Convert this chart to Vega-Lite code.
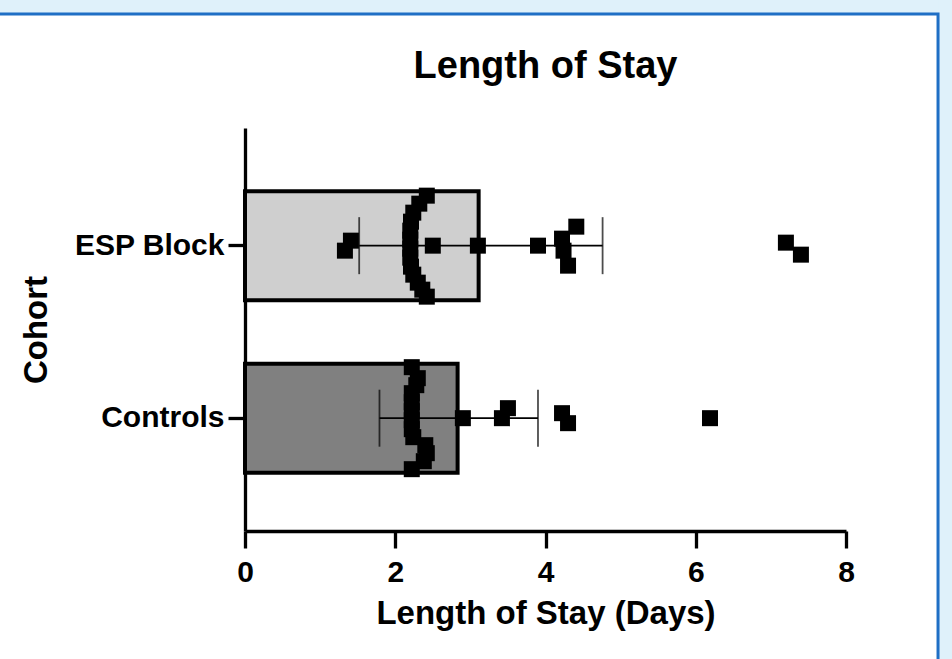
{
  "$schema": "https://vega.github.io/schema/vega-lite/v6.json",
  "width": 601,
  "height": 403,
  "autosize": {"type": "none"},
  "padding": {"left": 245, "top": 128, "right": 106, "bottom": 128},
  "background": "#ffffff",
  "title": {
    "text": "Length of Stay",
    "font": "Liberation Sans",
    "fontSize": 38,
    "fontWeight": "bold",
    "color": "#000000",
    "anchor": "middle",
    "frame": "group",
    "offset": -86
  },
  "config": {
    "view": {"stroke": null},
    "axis": {
      "domainColor": "#000000",
      "domainWidth": 3.3,
      "tickColor": "#000000",
      "tickWidth": 3.3,
      "tickSize": 17,
      "labelFont": "Liberation Sans",
      "labelFontWeight": "bold",
      "labelFontSize": 30,
      "labelColor": "#000000",
      "labelFlush": false,
      "titleFont": "Liberation Sans",
      "titleFontWeight": "bold",
      "titleFontSize": 33,
      "titleColor": "#000000",
      "grid": false
    }
  },
  "datasets": {
    "points": [
      {"cohort": "ESP Block", "days": 1.33, "spread": 5},
      {"cohort": "ESP Block", "days": 1.41, "spread": -5},
      {"cohort": "ESP Block", "days": 2.42, "spread": -50},
      {"cohort": "ESP Block", "days": 2.32, "spread": -42},
      {"cohort": "ESP Block", "days": 2.24, "spread": -33},
      {"cohort": "ESP Block", "days": 2.21, "spread": -24},
      {"cohort": "ESP Block", "days": 2.2, "spread": -15},
      {"cohort": "ESP Block", "days": 2.2, "spread": -6},
      {"cohort": "ESP Block", "days": 2.2, "spread": 3},
      {"cohort": "ESP Block", "days": 2.2, "spread": 12},
      {"cohort": "ESP Block", "days": 2.21, "spread": 21},
      {"cohort": "ESP Block", "days": 2.24, "spread": 29},
      {"cohort": "ESP Block", "days": 2.3, "spread": 37},
      {"cohort": "ESP Block", "days": 2.36, "spread": 44},
      {"cohort": "ESP Block", "days": 2.42, "spread": 51},
      {"cohort": "ESP Block", "days": 2.5, "spread": 0},
      {"cohort": "ESP Block", "days": 3.1, "spread": 0},
      {"cohort": "ESP Block", "days": 3.9, "spread": 0},
      {"cohort": "ESP Block", "days": 4.22, "spread": -7},
      {"cohort": "ESP Block", "days": 4.41, "spread": -19},
      {"cohort": "ESP Block", "days": 4.24, "spread": 5},
      {"cohort": "ESP Block", "days": 4.3, "spread": 20},
      {"cohort": "ESP Block", "days": 7.2, "spread": -3},
      {"cohort": "ESP Block", "days": 7.4, "spread": 9},
      {"cohort": "Controls", "days": 2.22, "spread": -51},
      {"cohort": "Controls", "days": 2.3, "spread": -40},
      {"cohort": "Controls", "days": 2.28, "spread": -33},
      {"cohort": "Controls", "days": 2.22, "spread": -25},
      {"cohort": "Controls", "days": 2.22, "spread": -16},
      {"cohort": "Controls", "days": 2.22, "spread": -7},
      {"cohort": "Controls", "days": 2.22, "spread": 2},
      {"cohort": "Controls", "days": 2.22, "spread": 11},
      {"cohort": "Controls", "days": 2.24, "spread": 19},
      {"cohort": "Controls", "days": 2.4, "spread": 27},
      {"cohort": "Controls", "days": 2.42, "spread": 35},
      {"cohort": "Controls", "days": 2.38, "spread": 43},
      {"cohort": "Controls", "days": 2.22, "spread": 51},
      {"cohort": "Controls", "days": 2.9, "spread": 0},
      {"cohort": "Controls", "days": 3.42, "spread": 0},
      {"cohort": "Controls", "days": 3.5, "spread": -10},
      {"cohort": "Controls", "days": 4.22, "spread": -5},
      {"cohort": "Controls", "days": 4.3, "spread": 5},
      {"cohort": "Controls", "days": 6.19, "spread": 0}
    ],
    "summary": [
      {"cohort": "ESP Block", "mean": 3.11, "lo": 1.52, "hi": 4.76},
      {"cohort": "Controls", "mean": 2.83, "lo": 1.79, "hi": 3.9}
    ],
    "strips": [
      {"left": -5, "right": 9.7, "top": 1.3176, "bottom": 1.283},
      {"left": 9.225, "right": 9.7, "top": 1.3176, "bottom": -1}
    ],
    "panel": [
      {"left": -5, "right": 9.225, "top": 1.283, "bottom": -1}
    ]
  },
  "layer": [
    {
      "layer": [
        {
          "data": {"name": "strips"},
          "mark": {"type": "rect", "fill": "#dff1fa", "strokeWidth": 0, "clip": false},
          "encoding": {
            "x": {"field": "left", "type": "quantitative", "scale": {"domain": [0, 8], "nice": false, "zero": false}, "title": "Length of Stay (Days)", "axis": {"values": [0, 2, 4, 6, 8], "format": "d", "labelPadding": 9, "titlePadding": 10}},
            "x2": {"field": "right"},
            "y": {"field": "top", "type": "quantitative", "scale": {"domain": [0, 1], "nice": false, "zero": false}, "axis": null},
            "y2": {"field": "bottom"}
          }
        },
        {
          "data": {"name": "panel"},
          "mark": {"type": "rect", "filled": false, "fillOpacity": 0, "stroke": "#1f6fc5", "strokeWidth": 3, "clip": false},
          "encoding": {
            "x": {"field": "left", "type": "quantitative", "title": "Length of Stay (Days)"},
            "x2": {"field": "right"},
            "y": {"field": "top", "type": "quantitative", "axis": null},
            "y2": {"field": "bottom"}
          }
        }
      ]
    },
    {
      "encoding": {
        "y": {"field": "cohort", "type": "nominal", "sort": ["ESP Block", "Controls"], "scale": {"paddingInner": 0.368, "paddingOuter": 0.352, "align": 0.52}, "title": "Cohort", "axis": {"titlePadding": 20, "labelPadding": 4}}
      },
      "layer": [
        {
          "data": {"name": "summary"},
          "mark": {"type": "bar", "stroke": "#000000", "strokeWidth": 4, "height": 109},
          "encoding": {
            "x": {"field": "mean", "type": "quantitative", "scale": {"domain": [0, 8], "nice": false}, "title": "Length of Stay (Days)", "axis": {"values": [0, 2, 4, 6, 8], "format": "d", "labelPadding": 9, "titlePadding": 10}},
            "fill": {"field": "cohort", "type": "nominal", "scale": {"domain": ["ESP Block", "Controls"], "range": ["#cfcfcf", "#808080"]}, "legend": null}
          }
        },
        {
          "data": {"name": "summary"},
          "mark": {"type": "rule", "color": "#000000", "strokeWidth": 1.8},
          "encoding": {
            "x": {"field": "lo", "type": "quantitative", "title": "Length of Stay (Days)"},
            "x2": {"field": "hi"}
          }
        },
        {
          "data": {"name": "summary"},
          "mark": {"type": "tick", "color": "#000000", "thickness": 1.8, "size": 57},
          "encoding": {
            "x": {"field": "lo", "type": "quantitative", "title": "Length of Stay (Days)"}
          }
        },
        {
          "data": {"name": "summary"},
          "mark": {"type": "tick", "color": "#000000", "thickness": 1.8, "size": 57},
          "encoding": {
            "x": {"field": "hi", "type": "quantitative", "title": "Length of Stay (Days)"}
          }
        },
        {
          "data": {"name": "points"},
          "mark": {"type": "point", "shape": "square", "filled": true, "size": 256, "color": "#000000", "opacity": 1},
          "encoding": {
            "yOffset": {"field": "spread", "type": "quantitative", "scale": {"domain": [-54.5, 54.5], "range": [0, 109], "nice": false, "zero": false}},
            "x": {"field": "days", "type": "quantitative", "title": "Length of Stay (Days)"}
          }
        }
      ]
    }
  ],
  "resolve": {"scale": {"y": "independent"}}
}
